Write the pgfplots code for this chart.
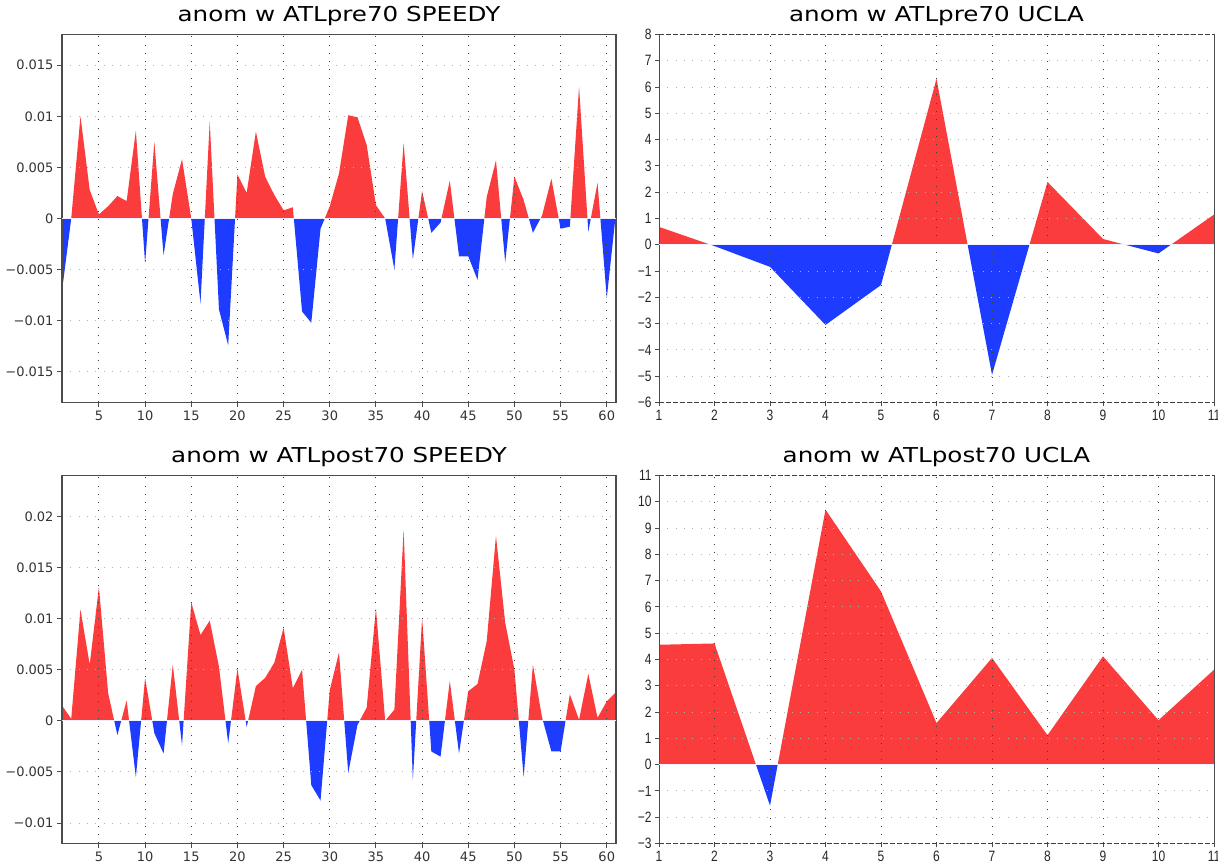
\documentclass[border=0pt]{standalone}
\usepackage{fontspec}
\setmainfont{DejaVu Sans}
\newfontfamily\titlefont[FakeStretch=1.2]{DejaVu Sans}
\newfontfamily\gradsfont[FakeStretch=0.8]{Liberation Sans}
\usepackage{pgfplots}
\usepackage{pgfplotstable}
\pgfplotsset{compat=1.18}
\definecolor{gred}{RGB}{250,60,60}
\definecolor{gblue}{RGB}{30,60,255}

\pgfplotstableread{
x y
1 -0.0071
2 0.0000
3 0.0100
4 0.0028
5 0.0004
6 0.0012
7 0.0022
8 0.0017
9 0.0086
10 -0.0044
11 0.0075
12 -0.0036
13 0.0024
14 0.0058
15 0.0000
16 -0.0083
17 0.0095
18 -0.0089
19 -0.0124
20 0.0043
21 0.0025
22 0.0085
23 0.0041
24 0.0023
25 0.0008
26 0.0011
27 -0.0091
28 -0.0102
29 -0.0010
30 0.0012
31 0.0044
32 0.0101
33 0.0099
34 0.0072
35 0.0013
36 0.0000
37 -0.0050
38 0.0074
39 -0.0040
40 0.0027
41 -0.0014
42 -0.0004
43 0.0037
44 -0.0037
45 -0.0037
46 -0.0060
47 0.0021
48 0.0057
49 -0.0043
50 0.0041
51 0.0018
52 -0.0014
53 0.0003
54 0.0039
55 -0.0010
56 -0.0008
57 0.0129
58 -0.0013
59 0.0035
60 -0.0078
61 0.0006
}\prespeedy

\pgfplotstableread{
x y
1 0.0015
2 0.0002
3 0.0109
4 0.0055
5 0.0131
6 0.0027
7 -0.0014
8 0.0020
9 -0.0055
10 0.0042
11 -0.0012
12 -0.0032
13 0.0055
14 -0.0024
15 0.0116
16 0.0084
17 0.0098
18 0.0053
19 -0.0022
20 0.0051
21 -0.0006
22 0.0034
23 0.0042
24 0.0057
25 0.0091
26 0.0032
27 0.0050
28 -0.0063
29 -0.0078
30 0.0030
31 0.0067
32 -0.0051
33 -0.0004
34 0.0013
35 0.0110
36 0.0000
37 0.0011
38 0.0187
39 -0.0058
40 0.0101
41 -0.0030
42 -0.0035
43 0.0039
44 -0.0032
45 0.0029
46 0.0036
47 0.0078
48 0.0181
49 0.0096
50 0.0050
51 -0.0055
52 0.0055
53 0.0003
54 -0.0030
55 -0.0030
56 0.0026
57 0.0001
58 0.0046
59 0.0003
60 0.0019
61 0.0028
}\postspeedy

\pgfplotstableread{
x y
1 0.68
2 -0.05
3 -0.84
4 -3.05
5 -1.53
6 6.32
7 -4.95
8 2.39
9 0.22
10 -0.33
11 1.15
}\preucla

\pgfplotstableread{
x y
1 4.56
2 4.61
3 -1.56
4 9.70
5 6.59
6 1.58
7 4.06
8 1.12
9 4.12
10 1.69
11 3.61
}\postucla

\pgfplotsset{
  fillax/.style={scale only axis, hide axis, anchor=south west, clip=true},
  base/.style={
    scale only axis, anchor=south west, tick align=outside, tick pos=left,
    scaled y ticks=false, scaled x ticks=false,
    xmajorgrids, ymajorgrids,
    x grid style={black!75, line width=1pt, dash pattern=on 1pt off 7.3pt},
    y grid style={black!30, line width=1pt, dash pattern=on 1pt off 7.3pt},
    title style={at={(0.5,1)}, anchor=base, yshift=6.5pt,
      font=\titlefont\fontsize{20.5}{24}\selectfont},
    height=368pt,
  },
  speedy/.style={base, width=554pt, xmin=1, xmax=61, xtick={5,10,...,60},
    axis line style={black!70, line width=1.2pt},
    major tick length=5pt, tick style={black!70, line width=0.9pt},
    ticklabel style={font=\fontsize{13}{15}\selectfont, text=black!80},
    xticklabels={5,10,15,20,25,30,35,40,45,50,55,60},
  },
  ucla/.style={base, width=555pt, xmin=1, xmax=11, xtick={1,...,11},
    separate axis lines,
    x axis line style={black!75, line width=0.9pt, dash pattern=on 5pt off 2pt},
    y axis line style={black!70, line width=1pt},
    major tick length=4pt, tick style={black!70, line width=0.9pt},
    ticklabel style={font=\gradsfont\fontsize{15}{17}\selectfont, text=black!85},
    xticklabels={1,2,3,4,5,6,7,8,9,10,11},
  },
  zeroline/.style={draw=blue!6, line width=1pt},
}

\begin{document}
\begin{tikzpicture}
\useasboundingbox (0,0) rectangle (1218pt,864pt);

% ---------- top left: SPEEDY pre70 (-0.018..0.018) ----------
\begin{axis}[fillax, width=554pt, height=184pt, at={(62pt,645.5pt)},
  xmin=1, xmax=61, ymin=0, ymax=0.018]
\addplot[fill=gred, draw=none] table[x=x,y=y] {\prespeedy} \closedcycle;
\end{axis}
\begin{axis}[fillax, width=554pt, height=184pt, at={(62pt,461.5pt)},
  xmin=1, xmax=61, ymin=-0.018, ymax=0]
\addplot[fill=gblue, draw=none] table[x=x,y=y] {\prespeedy} \closedcycle;
\end{axis}
\begin{axis}[speedy, at={(62pt,461.5pt)},
  title={anom w ATLpre70 SPEEDY},
  ymin=-0.018, ymax=0.018,
  ytick={-0.015,-0.01,-0.005,0,0.005,0.01,0.015},
  yticklabels={−0.015,−0.01,−0.005,0,0.005,0.01,0.015}]
\addplot[zeroline] coordinates {(1,0) (61,0)};
\end{axis}

% ---------- top right: UCLA pre70 (-6..8) ----------
\begin{axis}[fillax, width=555pt, height=210.2857pt, at={(659pt,619.2143pt)},
  xmin=1, xmax=11, ymin=0, ymax=8]
\addplot[fill=gred, draw=none] table[x=x,y=y] {\preucla} \closedcycle;
\end{axis}
\begin{axis}[fillax, width=555pt, height=157.7143pt, at={(659pt,461.5pt)},
  xmin=1, xmax=11, ymin=-6, ymax=0]
\addplot[fill=gblue, draw=none] table[x=x,y=y] {\preucla} \closedcycle;
\end{axis}
\begin{axis}[ucla, at={(659pt,461.5pt)},
  title={anom w ATLpre70 UCLA},
  ymin=-6, ymax=8, ytick={-6,...,8},
  yticklabels={−6,−5,−4,−3,−2,−1,0,1,2,3,4,5,6,7,8}]
\addplot[zeroline] coordinates {(1,0) (11,0)};
\end{axis}

% ---------- bottom left: SPEEDY post70 (-0.012..0.024) ----------
\begin{axis}[fillax, width=554pt, height=245.3333pt, at={(62pt,143.1667pt)},
  xmin=1, xmax=61, ymin=0, ymax=0.024]
\addplot[fill=gred, draw=none] table[x=x,y=y] {\postspeedy} \closedcycle;
\end{axis}
\begin{axis}[fillax, width=554pt, height=122.6667pt, at={(62pt,20.5pt)},
  xmin=1, xmax=61, ymin=-0.012, ymax=0]
\addplot[fill=gblue, draw=none] table[x=x,y=y] {\postspeedy} \closedcycle;
\end{axis}
\begin{axis}[speedy, at={(62pt,20.5pt)},
  title={anom w ATLpost70 SPEEDY},
  ymin=-0.012, ymax=0.024,
  ytick={-0.01,-0.005,0,0.005,0.01,0.015,0.02},
  yticklabels={−0.01,−0.005,0,0.005,0.01,0.015,0.02}]
\addplot[zeroline] coordinates {(1,0) (61,0)};
\end{axis}

% ---------- bottom right: UCLA post70 (-3..11) ----------
\begin{axis}[fillax, width=555pt, height=289.1429pt, at={(659pt,99.3571pt)},
  xmin=1, xmax=11, ymin=0, ymax=11]
\addplot[fill=gred, draw=none] table[x=x,y=y] {\postucla} \closedcycle;
\end{axis}
\begin{axis}[fillax, width=555pt, height=78.8571pt, at={(659pt,20.5pt)},
  xmin=1, xmax=11, ymin=-3, ymax=0]
\addplot[fill=gblue, draw=none] table[x=x,y=y] {\postucla} \closedcycle;
\end{axis}
\begin{axis}[ucla, at={(659pt,20.5pt)},
  title={anom w ATLpost70 UCLA},
  ymin=-3, ymax=11, ytick={-3,...,11},
  yticklabels={−3,−2,−1,0,1,2,3,4,5,6,7,8,9,10,11}]
\addplot[zeroline] coordinates {(1,0) (11,0)};
\end{axis}
\end{tikzpicture}
\end{document}
